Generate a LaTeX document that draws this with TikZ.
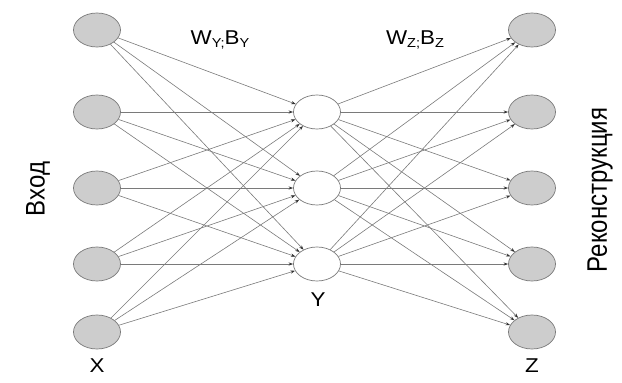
\documentclass[tikz,border=0pt]{standalone}
\usepackage{fontspec}
\setmainfont{Liberation Sans}
\usepackage{tikz}
\usetikzlibrary{arrows.meta,shapes.geometric}
\usepackage{xcolor}
\definecolor{linegray}{HTML}{7A7A7A}
\definecolor{cellgray}{HTML}{CDCDCD}
\newcommand{\lowsub}[1]{\raisebox{-0.35ex}{\fontsize{13}{13}\selectfont #1}}

\begin{document}
\begin{tikzpicture}[x=1pt,y=-1pt,>={Stealth[length=4.5pt,width=3.2pt,color=black!80]},
  every node/.style={font=\fontsize{20}{20}\selectfont,xscale=1.12},
  cell/.style={ellipse,draw=linegray,line width=0.7pt,minimum width=42pt,minimum height=34pt,inner sep=0pt,xscale=1},
  unit/.style={cell,fill=cellgray},
  hidden/.style={cell,fill=white},
  side/.style={rotate=90,xscale=1,font=\fontsize{24}{24}\selectfont},
  link/.style={->,draw=linegray,line width=0.6pt}]
\useasboundingbox (0,0) rectangle (622,383);
% layers
\node[unit] (in1) at (97,30) {};
\node[unit] (in2) at (97,112) {};
\node[unit] (in3) at (97,188) {};
\node[unit] (in4) at (97,264) {};
\node[unit] (in5) at (97,332) {};
\node[hidden] (hid1) at (317,112) {};
\node[hidden] (hid2) at (317,188) {};
\node[hidden] (hid3) at (317,264) {};
\node[unit] (out1) at (532,30) {};
\node[unit] (out2) at (532,112) {};
\node[unit] (out3) at (532,188) {};
\node[unit] (out4) at (532,264) {};
\node[unit] (out5) at (532,332) {};
% connections
\foreach \i in {1,...,5}
  \foreach \j in {1,2,3} {
    \draw[link] (in\i) -- (hid\j);
    \draw[link] (hid\j) -- (out\i);
  }
% labels
\node (lx) at (97,366) {X};
\node (ly) at (318,300) {Y};
\node (lz) at (532,366) {Z};
\node (wy) at (220,40) {W\lowsub{Y;}B\lowsub{Y}};
\node (wz) at (415,40) {W\lowsub{Z;}B\lowsub{Z}};
\node[side] (inp) at (38,189) {Вход};
\node[side,yscale=1.05] (rec) at (600,190) {Реконструкция};
\end{tikzpicture}
\end{document}
